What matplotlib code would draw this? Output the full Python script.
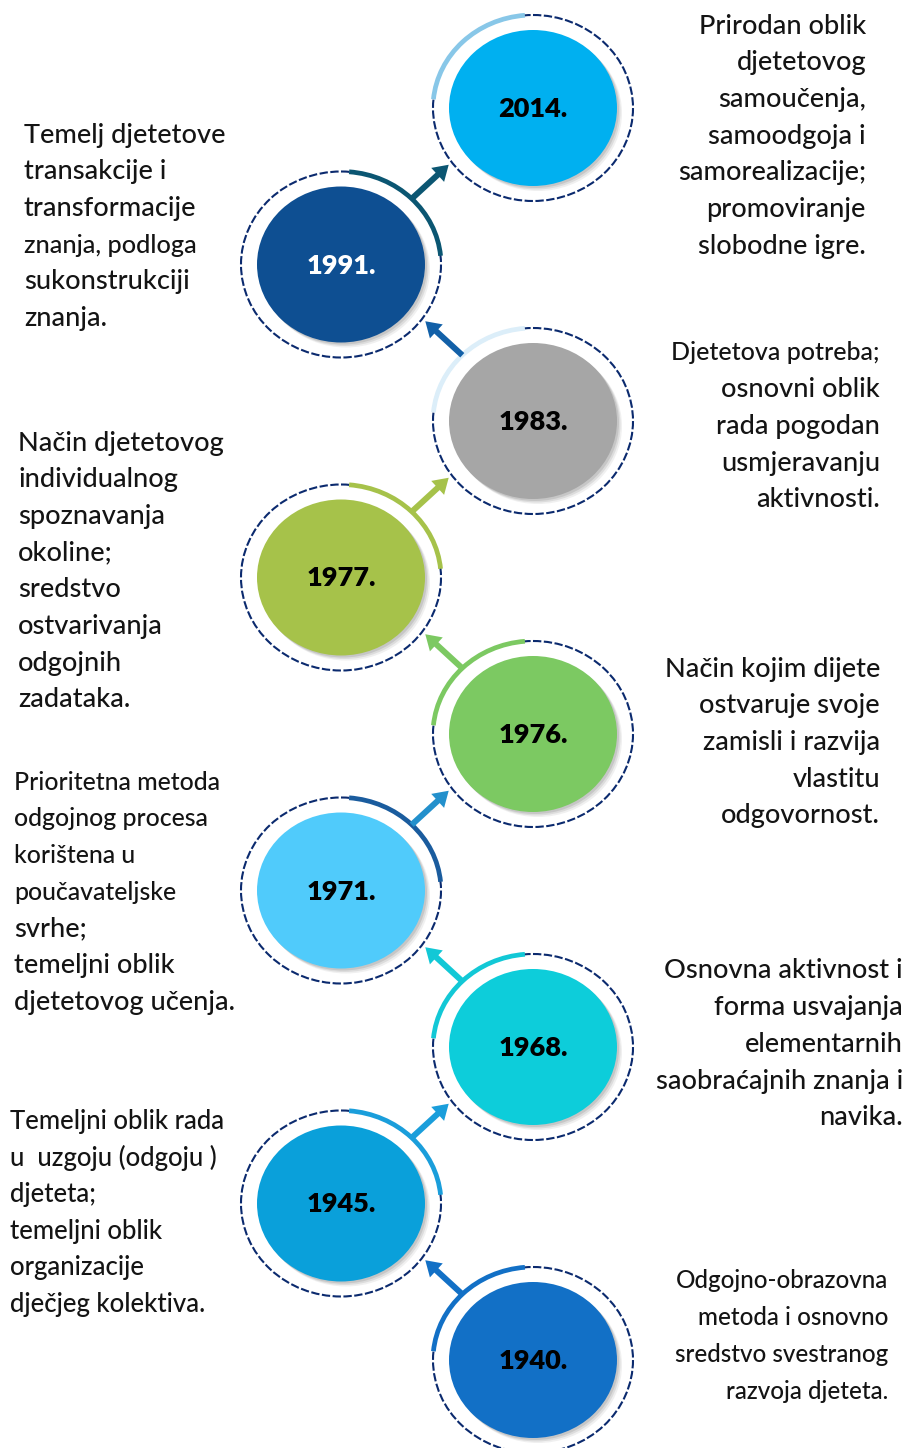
import matplotlib.pyplot as plt
from matplotlib.patches import Ellipse, Arc, FancyArrow
import numpy as np

W, H = 906, 1448

# timeline, bottom to top
years = ["1940.", "1945.", "1968.", "1971.", "1976.", "1977.", "1983.", "1991.", "2014."]
fill_colors = ["#1270C6", "#0AA0DA", "#0DCDDA", "#50CBFB", "#7CC962",
               "#A6C24A", "#A6A6A6", "#0E4F92", "#00B0F0"]
arc_colors = ["#1270C6", "#1A9EDB", "#12C8D6", "#1A5C9E", "#7CC962",
              "#A6C24A", "#DCEEF9", "#0B5672", "#88C7E8"]
arrow_colors = ["#1270C6", "#1A9EDB", "#12C8D6", "#2390CC", "#7CC962",
                "#A6C24A", "#1260A8", "#0B5672", None]
year_text_colors = ["black"] * 7 + ["white", "black"]

descriptions = [
    ["Odgojno-obrazovna", "metoda i osnovno", "sredstvo svestranog", "razvoja djeteta."],
    ["Temeljni oblik rada", "u  uzgoju (odgoju )", "djeteta;", "temeljni oblik",
     "organizacije", "dječjeg kolektiva."],
    ["Osnovna aktivnost i", "forma usvajanja", "elementarnih",
     "saobraćajnih znanja i", "navika."],
    ["Prioritetna metoda", "odgojnog procesa", "korištena u", "poučavateljske",
     "svrhe;", "temeljni oblik", "djetetovog učenja."],
    ["Način kojim dijete", "ostvaruje svoje", "zamisli i razvija", "vlastitu",
     "odgovornost."],
    ["Način djetetovog", "individualnog", "spoznavanja", "okoline;", "sredstvo",
     "ostvarivanja", "odgojnih", "zadataka."],
    ["Djetetova potreba;", "osnovni oblik", "rada pogodan", "usmjeravanju",
     "aktivnosti."],
    ["Temelj djetetove", "transakcije i", "transformacije", "znanja, podloga",
     "sukonstrukciji", "znanja."],
    ["Prirodan oblik", "djetetovog", "samoučenja,", "samoodgoja i",
     "samorealizacije;", "promoviranje", "slobodne igre."],
]

# layout (pixels)
text_anchor_x = [888, 10, 903, 14, 880, 18, 880, 24, 866]
text_top_y = [1281, 1121, 971, 782, 669, 443, 353, 135, 26]
line_step = 36.7
col_x = {"R": 533, "L": 341}
y_bottom, y_step = 1360, 156.5
ring_w, ring_h = 200, 186
fill_w, fill_h = 168, 156
ring_color = "#0B2A6E"
base_size = 19.5
# lines that are set tighter in the original
tight_size = {0: 17.4, 1: 18.5}
tight_lines = {(3, 0): 17.8, (3, 1): 17.8, (3, 2): 17.8, (3, 3): 17.8,
               (6, 0): 18.0, (7, 3): 18.2}

plt.rcParams["font.family"] = ["Lato", "DejaVu Sans"]

fig = plt.figure(figsize=(W / 100, H / 100), dpi=100)
ax = fig.add_axes([0, 0, 1, 1])
ax.set_xlim(0, W)
ax.set_ylim(H, 0)
ax.set_aspect("equal")
ax.axis("off")


def screen_pt(cx, cy, ang, rw, rh):
    a = np.deg2rad(ang)
    return cx + rw / 2 * np.cos(a), cy - rh / 2 * np.sin(a)


for i, year in enumerate(years):
    side = "R" if i % 2 == 0 else "L"
    cx = col_x[side]
    cy = y_bottom - i * y_step

    # dashed ring
    ax.add_patch(Ellipse((cx, cy), ring_w, ring_h, fill=False, ec=ring_color,
                         lw=1.5, ls=(0, (4, 1.2)), zorder=2))
    # highlighted arc (screen angles -> data angles with inverted y)
    if side == "R":
        a0, a1 = 95, 175
    else:
        a0, a1 = 5, 85
    ax.add_patch(Arc((cx, cy), ring_w, ring_h, theta1=-a1, theta2=-a0,
                     color=arc_colors[i], lw=3.4, zorder=3))
    # shadow + filled disc
    for off, al in [(5, 0.10), (3.5, 0.15), (2, 0.2)]:
        ax.add_patch(Ellipse((cx + off, cy + off), fill_w, fill_h, fc="#707070",
                             ec="none", alpha=al, zorder=3))
    ax.add_patch(Ellipse((cx, cy), fill_w, fill_h, fc=fill_colors[i],
                         ec="none", zorder=4))
    ax.text(cx, cy + 1, year, ha="center", va="center", fontsize=19.5,
            fontweight="heavy", color=year_text_colors[i], zorder=5)

    # arrow towards the next circle
    if arrow_colors[i] is not None:
        ang = 135 if side == "R" else 45
        bx, by = screen_pt(cx, cy, ang, ring_w, ring_h)
        dx = 37 if side == "L" else -37
        ax.add_patch(FancyArrow(bx, by, dx, -34, width=6, head_width=19,
                                head_length=15, length_includes_head=True,
                                color=arrow_colors[i], lw=0, zorder=3))

    # description text
    ha = "right" if side == "R" else "left"
    for k, line in enumerate(descriptions[i]):
        size = tight_lines.get((i, k), tight_size.get(i, base_size))
        ax.text(text_anchor_x[i], text_top_y[i] + k * line_step, line,
                ha=ha, va="center", fontsize=size, fontweight="medium",
                color="#141414")

fig.savefig("out.png", dpi=100)
